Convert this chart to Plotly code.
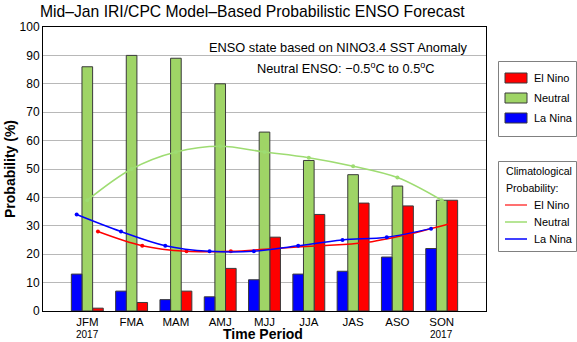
import numpy as np
import plotly.graph_objects as go

categories = ["JFM", "FMA", "MAM", "AMJ", "MJJ", "JJA", "JAS", "ASO", "SON"]
la_nina = [13, 7, 4, 5, 11, 13, 14, 19, 22]
neutral = [86, 90, 89, 80, 63, 53, 48, 44, 39]
el_nino = [1, 3, 7, 15, 26, 34, 38, 37, 39]

clim_el_nino = [28, 23, 21, 21, 22, 23, 24, 27, 31]
clim_neutral = [39, 50, 56, 58, 56, 54, 51, 47, 39]
clim_la_nina = [34, 28, 23, 21, 21, 23, 25, 26, 29]

yticks = [0, 10, 20, 30, 40, 50, 60, 70, 80, 90, 100]
legend_names = ["El Nino", "Neutral", "La Nina"]

pos = np.arange(1, len(categories) + 1)
bw = 0.24

RED = "#ff0000"
GREEN = "#9fd466"
BLUE = "#0000ff"
GREEN_LINE = "#9edc72"
FONT = "Liberation Sans, Arial, sans-serif"

L, R, T, B, W, H = 43, 91, 27, 31, 577, 342
PW, PH = W - L - R, H - T - B


def px(x):
    return (x - L) / PW


def py(y):
    return (H - B - y) / PH


fig = go.Figure()

# climatology lines (drawn behind bars)
fig.add_trace(go.Scatter(x=pos + bw, y=clim_el_nino, mode="lines+markers", line=dict(color=RED, width=1.5, shape="spline"),
                         marker=dict(size=4, color=RED), showlegend=False))
fig.add_trace(go.Scatter(x=pos, y=clim_neutral, mode="lines+markers", line=dict(color=GREEN_LINE, width=1.5, shape="spline"),
                         marker=dict(size=4, color=GREEN_LINE), showlegend=False))
fig.add_trace(go.Scatter(x=pos - bw, y=clim_la_nina, mode="lines+markers", line=dict(color=BLUE, width=1.5, shape="spline"),
                         marker=dict(size=4, color=BLUE), showlegend=False))

# bars
edge = dict(color="#3a3a3a", width=1)
fig.add_trace(go.Bar(x=pos, y=el_nino, width=bw, offset=bw / 2, name="El Nino",
                     marker=dict(color=RED, line=edge), showlegend=False))
fig.add_trace(go.Bar(x=pos, y=neutral, width=bw, offset=-bw / 2, name="Neutral",
                     marker=dict(color=GREEN, line=edge), showlegend=False))
fig.add_trace(go.Bar(x=pos, y=la_nina, width=bw, offset=-1.5 * bw, name="La Nina",
                     marker=dict(color=BLUE, line=edge), showlegend=False))

fig.update_layout(
    width=W, height=H,
    margin=dict(l=L, r=R, t=T, b=B, autoexpand=False),
    paper_bgcolor="white", plot_bgcolor="white",
    barmode="overlay",
    showlegend=False,
    font=dict(family=FONT, size=12, color="black"),
    xaxis=dict(range=[0, len(categories) + 1], tickmode="array", tickvals=pos, ticktext=categories,
               showgrid=False, zeroline=False, showline=True, linecolor="black", linewidth=1, mirror=True,
               ticks="", tickfont=dict(size=11.5)),
    yaxis=dict(range=[0, 100], tickmode="array", tickvals=yticks, showgrid=True, gridcolor="#b8b8b8",
               gridwidth=1, zeroline=False, showline=True, linecolor="black", linewidth=1, mirror=True,
               ticks="", tickfont=dict(size=12)),
)

fig.add_annotation(text="Mid\u2013Jan IRI/CPC Model\u2013Based Probabilistic ENSO Forecast", xref="paper", yref="paper",
                   x=px(252), y=py(11), xanchor="center", yanchor="middle", showarrow=False,
                   font=dict(size=15.7, family=FONT))

annotations = [
    dict(text="ENSO state based on NINO3.4 SST Anomaly", x=470, y=47),
    dict(text="Neutral ENSO: \u22120.5<sup>o</sup>C to 0.5<sup>o</sup>C", x=437, y=68),
]
for a in annotations:
    fig.add_annotation(text=a["text"], xref="paper", yref="paper", x=px(a["x"]), y=py(a["y"]),
                       xanchor="right", yanchor="middle", showarrow=False, font=dict(size=12.8, family=FONT))

fig.add_annotation(text="<b>Time Period</b>", xref="paper", yref="paper", x=px(263), y=py(333.5),
                   xanchor="center", yanchor="middle", showarrow=False, borderpad=0,
                   font=dict(size=14, family=FONT))
fig.add_annotation(text="<b>Probability (%)</b>", xref="paper", yref="paper", x=px(10), y=0.5,
                   xanchor="center", yanchor="middle", textangle=-90, showarrow=False,
                   font=dict(size=14, family=FONT))
for i in (0, len(categories) - 1):
    fig.add_annotation(text="2017", xref="x", yref="paper", x=pos[i], y=py(334),
                       xanchor="center", yanchor="middle", showarrow=False, font=dict(size=10, family=FONT))

# manual legend 1 (bars)
shapes = []
shapes.append(dict(type="rect", xref="paper", yref="paper", x0=px(498.5), x1=px(576.5), y0=py(61.5), y1=py(136.5),
                   line=dict(color="#808080", width=1), fillcolor="white", layer="above"))
for nm, col, yc in zip(legend_names, [RED, GREEN, BLUE], [78, 98, 118]):
    shapes.append(dict(type="rect", xref="paper", yref="paper", x0=px(505), x1=px(527), y0=py(yc - 5), y1=py(yc + 5),
                       line=dict(color="#3a3a3a", width=1), fillcolor=col, layer="above"))
    fig.add_annotation(text=nm, xref="paper", yref="paper", x=px(532), y=py(yc), xanchor="left", yanchor="middle",
                       showarrow=False, font=dict(size=11, family=FONT))

# manual legend 2 (climatology)
shapes.append(dict(type="rect", xref="paper", yref="paper", x0=px(498.5), x1=px(576.5), y0=py(161.5), y1=py(251.5),
                   line=dict(color="#808080", width=1), fillcolor="white", layer="above"))
fig.add_annotation(text="Climatological", xref="paper", yref="paper", x=px(504), y=py(171), xanchor="left",
                   yanchor="middle", showarrow=False, font=dict(size=10.6, family=FONT))
fig.add_annotation(text="Probability:", xref="paper", yref="paper", x=px(504), y=py(188), xanchor="left",
                   yanchor="middle", showarrow=False, font=dict(size=10.6, family=FONT))
for nm, col, yc in zip(legend_names, ["#ff4040", GREEN_LINE, BLUE], [205, 222, 239]):
    shapes.append(dict(type="line", xref="paper", yref="paper", x0=px(505), x1=px(527), y0=py(yc), y1=py(yc),
                       line=dict(color=col, width=1.5), layer="above"))
    fig.add_annotation(text=nm, xref="paper", yref="paper", x=px(532), y=py(yc), xanchor="left", yanchor="middle",
                       showarrow=False, font=dict(size=11, family=FONT))

fig.update_layout(shapes=shapes)

fig.write_html("out.html")
